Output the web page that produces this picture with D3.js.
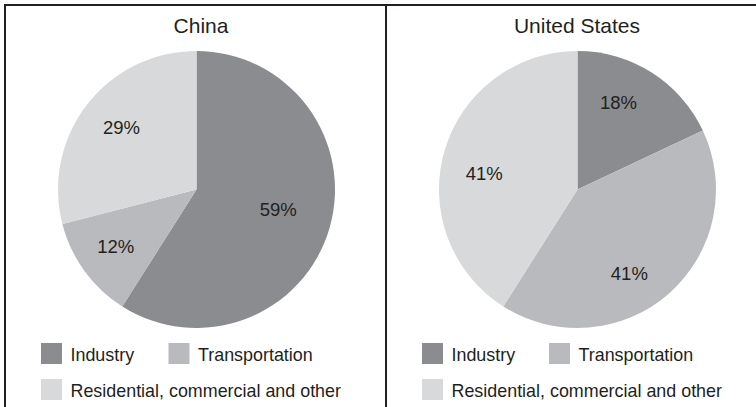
<!DOCTYPE html>
<html>
<head>
<meta charset="utf-8">
<script src="https://cdn.jsdelivr.net/npm/d3@7"></script>
<style>
  html, body { margin: 0; padding: 0; background: #fff; }
  svg { display: block; font-family: "Liberation Sans", Arial, Helvetica, sans-serif; }
</style>
</head>
<body>
<svg id="chart" width="756" height="407"></svg>
<script>
// Energy use by sector, share of total (%)
const categories = ["Industry", "Transportation", "Residential, commercial and other"];
const countries = ["China", "United States"];
const chinaShares = [59, 12, 29];
const usShares = [18, 41, 41];
const colors = ["#8b8c90", "#b9babd", "#d8d9db"];

const shareSets = [chinaShares, usShares];

// small hand nudges for the percentage labels, per panel and slice
const labelNudge = [
  [[-9.5, -6], [-4, 1], [0, -3.5]],
  [[-10, -6.5], [-11, 13], [-2, 10.5]]
];

const W = 756, H = 407;
const ink = "#231f20";
const panelX = [5, 386];
const radius = 138.5;
const cy = 189.5;

const svg = d3.select("#chart");

const pie = d3.pie().sort(null).value(d => d);
const arc = d3.arc().innerRadius(0).outerRadius(radius);
const labelArc = d3.arc().innerRadius(95).outerRadius(95);
const color = d3.scaleOrdinal().domain(categories).range(colors);

countries.forEach((name, pi) => {
  const x0 = panelX[pi];
  const cx = x0 + 191.5;
  const g = svg.append("g");

  // title
  g.append("text")
    .attr("x", pi === 0 ? x0 + 196 : x0 + 191)
    .attr("y", 33)
    .attr("text-anchor", "middle")
    .attr("font-size", 21)
    .attr("fill", ink)
    .text(name);

  const arcs = pie(shareSets[pi]);
  const pg = g.append("g").attr("transform", `translate(${cx},${cy})`);

  pg.selectAll("path")
    .data(arcs)
    .join("path")
    .attr("d", arc)
    .attr("fill", (d, i) => color(categories[i]));

  pg.selectAll("text")
    .data(arcs)
    .join("text")
    .attr("transform", (d, i) => {
      const c = labelArc.centroid(d);
      const n = labelNudge[pi][i];
      return `translate(${c[0] + n[0]},${c[1] + n[1]})`;
    })
    .attr("text-anchor", "middle")
    .attr("dy", "0.35em")
    .attr("font-size", 18.5)
    .attr("fill", ink)
    .text(d => d.data + "%");

  // legend
  const legend = g.append("g").attr("transform", `translate(${x0 + 36},0)`);
  const items = [
    { i: 0, x: 0, y: 343 },
    { i: 1, x: pi === 0 ? 127.5 : 127, y: 343 },
    { i: 2, x: 0, y: 379 }
  ];
  items.forEach(it => {
    legend.append("rect")
      .attr("x", it.x)
      .attr("y", it.y)
      .attr("width", 21)
      .attr("height", 21)
      .attr("fill", color(categories[it.i]));
    legend.append("text")
      .attr("x", it.x + 29.5)
      .attr("y", it.y + 17.5)
      .attr("font-size", 17.9)
      .attr("fill", ink)
      .text(categories[it.i]);
  });
});

// frame: top rule, left rule and divider between panels
svg.append("line").attr("x1", 4).attr("x2", W).attr("y1", 5).attr("y2", 5)
  .attr("stroke", ink).attr("stroke-width", 2);
svg.append("line").attr("x1", 5).attr("x2", 5).attr("y1", 4).attr("y2", H)
  .attr("stroke", ink).attr("stroke-width", 2);
svg.append("line").attr("x1", 386).attr("x2", 386).attr("y1", 4).attr("y2", H)
  .attr("stroke", ink).attr("stroke-width", 2);
</script>
</body>
</html>
